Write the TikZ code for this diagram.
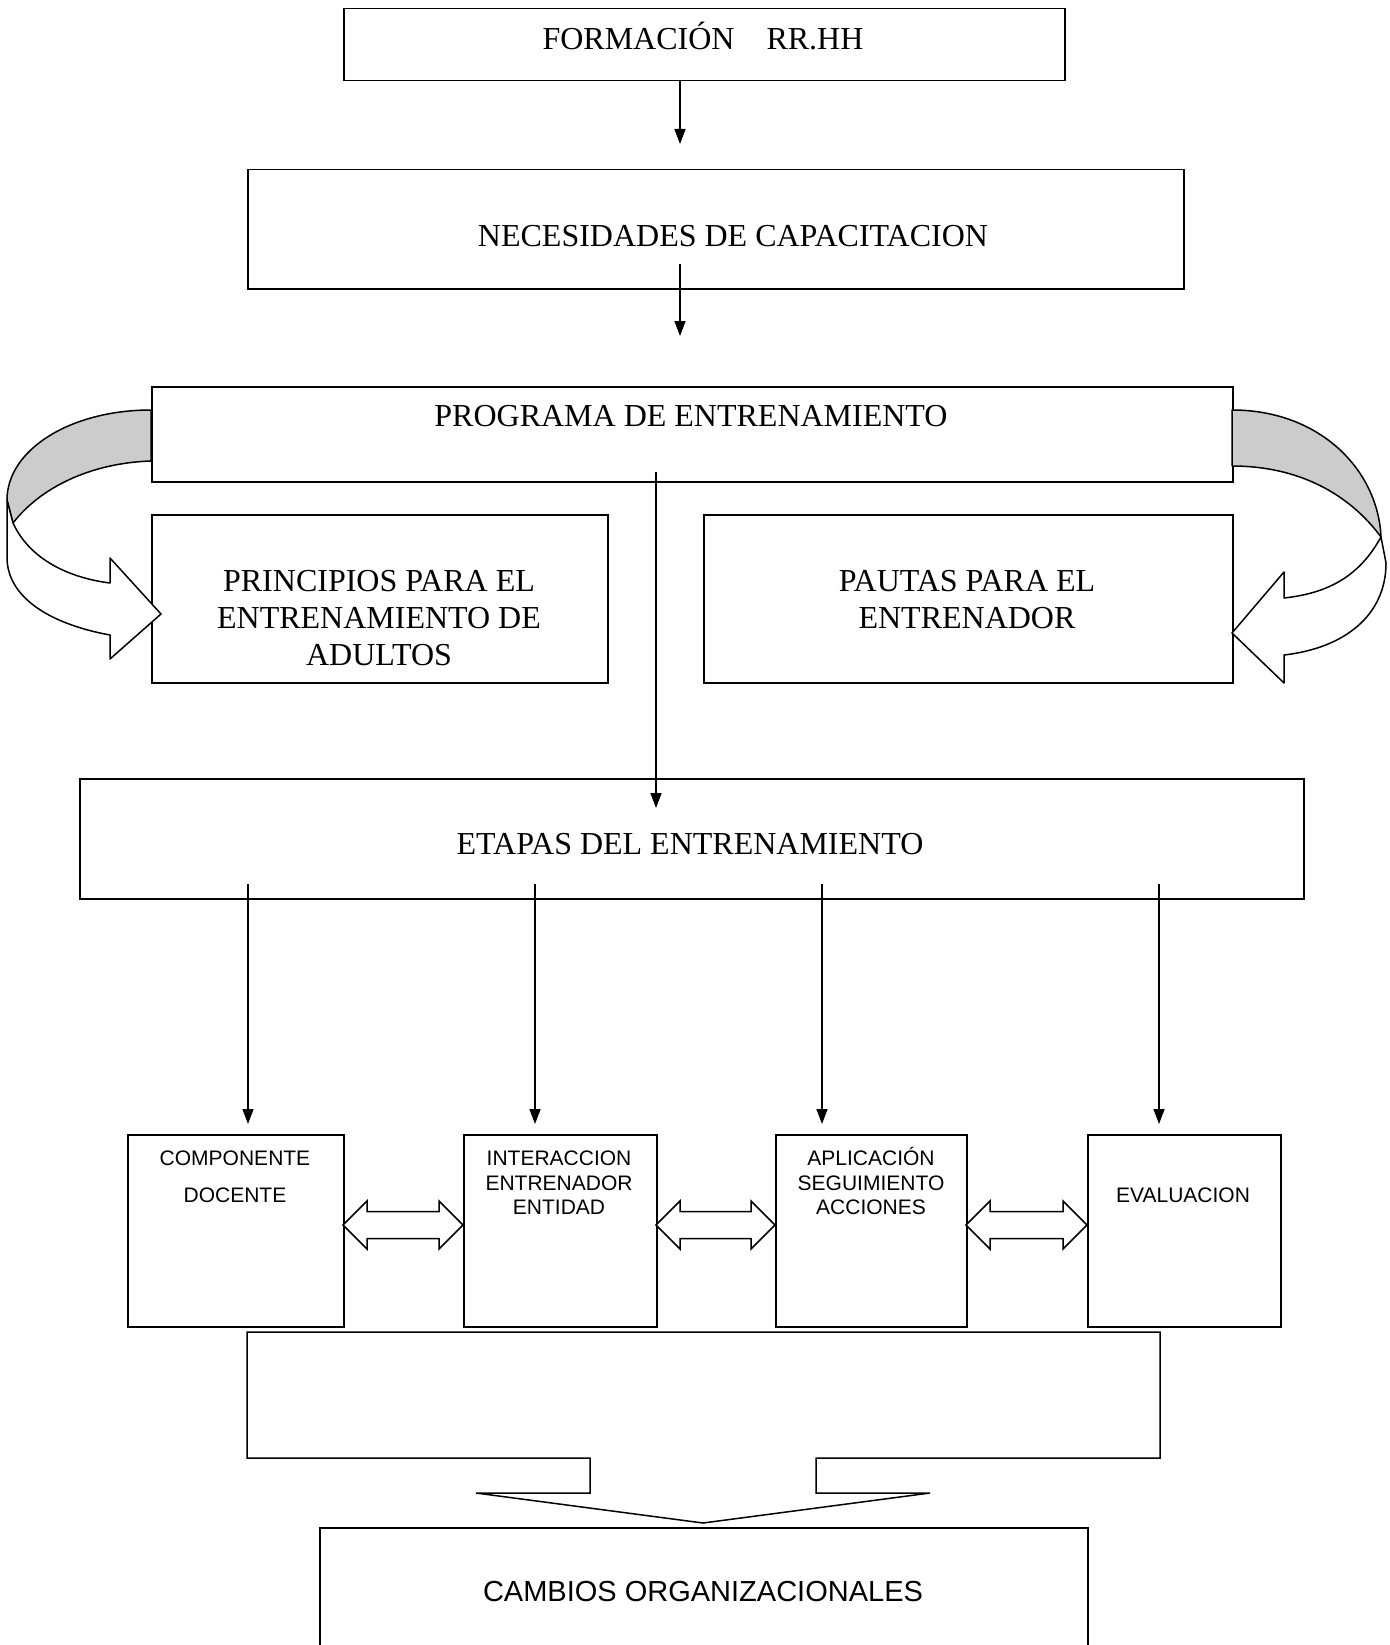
\documentclass[tikz,border=0pt]{standalone}
\usepackage{fontspec}
\setmainfont{Liberation Serif}
\newfontfamily\arialf{Liberation Sans}
\usetikzlibrary{arrows.meta}
\definecolor{bandgray}{RGB}{204,204,204}
\begin{document}
\begin{tikzpicture}[x=1pt,y=-1pt,
  box/.style={draw, line width=1.5pt, inner sep=0pt, anchor=north west},
  serif/.style={font=\fontsize{32}{36.7}\selectfont, inner sep=0pt, anchor=base},
  sans/.style={font=\arialf\fontsize{21}{24.5}\selectfont, inner sep=0pt, anchor=base},
  arr/.style={-{Triangle[length=15pt,width=11pt]}, line width=1.5pt},
  band/.style={draw, line width=1.5pt, line join=round},
  dbl/.style={draw, line width=1.5pt, fill=white, line join=miter},
]
\useasboundingbox (0,0) rectangle (1389,1645);

% boxes
\node[box, minimum width=721pt, minimum height=72pt]  (formacion)   at (343,8) {};
\node[box, minimum width=936pt, minimum height=119pt] (necesidades) at (247,169) {};
\node[box, minimum width=1081pt, minimum height=95pt] (programa)    at (151,386) {};
\node[box, minimum width=456pt, minimum height=168pt] (principios)  at (151,514) {};
\node[box, minimum width=529pt, minimum height=168pt] (pautas)      at (703,514) {};
\node[box, minimum width=1224pt, minimum height=120pt] (etapas)     at (79,778) {};
\node[box, minimum width=216pt, minimum height=192pt] (comp)  at (127,1134) {};
\node[box, minimum width=193pt, minimum height=192pt] (inter) at (463,1134) {};
\node[box, minimum width=191pt, minimum height=192pt] (aplic) at (775,1134) {};
\node[box, minimum width=193pt, minimum height=192pt] (eval)  at (1087,1134) {};
\node[box, minimum width=768pt, minimum height=140pt] (cambios) at (319,1527) {};

% texts
\node[serif] (tform) at (703,50) {FORMACIÓN\quad RR.HH};
\node[serif] (tnec)  at (733,247) {NECESIDADES DE CAPACITACION};
\node[serif] (tprog) at (691,426) {PROGRAMA DE ENTRENAMIENTO};
\node[serif] (tprin1) at (379,591) {PRINCIPIOS PARA EL};
\node[serif] (tprin2) at (379,628) {ENTRENAMIENTO DE};
\node[serif] (tprin3) at (379,665) {ADULTOS};
\node[serif] (tpaut1) at (967,591) {PAUTAS PARA EL};
\node[serif] (tpaut2) at (967,628) {ENTRENADOR};
\node[serif] (tetap) at (690,854) {ETAPAS DEL ENTRENAMIENTO};
\node[sans] (tcomp1) at (235,1165) {COMPONENTE};
\node[sans] (tcomp2) at (235,1202) {DOCENTE};
\node[sans] (tint1) at (559,1165) {INTERACCION};
\node[sans] (tint2) at (559,1190) {ENTRENADOR};
\node[sans] (tint3) at (559,1214) {ENTIDAD};
\node[sans] (tapl1) at (871,1165) {APLICACIÓN};
\node[sans] (tapl2) at (871,1190) {SEGUIMIENTO};
\node[sans] (tapl3) at (871,1214) {ACCIONES};
\node[sans] (teval) at (1183,1202) {EVALUACION};
\node[font=\arialf\fontsize{29}{34}\selectfont, inner sep=0pt, anchor=base] (tcamb) at (703,1601) {CAMBIOS ORGANIZACIONALES};

% connector ends
\coordinate (a1s) at (680,80);   \coordinate (a1e) at (680,144);
\coordinate (a2s) at (680,264);  \coordinate (a2e) at (680,336);
\coordinate (a3s) at (656,472);  \coordinate (a3e) at (656,808);
\coordinate (d1s) at (248,884);  \coordinate (d1e) at (248,1124);
\coordinate (d2s) at (535,884);  \coordinate (d2e) at (535,1124);
\coordinate (d3s) at (822,884);  \coordinate (d3e) at (822,1124);
\coordinate (d4s) at (1159,884); \coordinate (d4e) at (1159,1124);

\draw[arr] (a1s) -- (a1e);
\draw[arr] (a2s) -- (a2e);
\draw[arr] (a3s) -- (a3e);
\draw[arr] (d1s) -- (d1e);
\draw[arr] (d2s) -- (d2e);
\draw[arr] (d3s) -- (d3e);
\draw[arr] (d4s) -- (d4e);

% double arrows between the stage boxes
\foreach \a/\b in {343/463, 656/775, 966/1087}{
  \path[dbl] (\a,1225) -- (\a+24,1201) -- (\a+24,1211.5) -- (\b-24,1211.5) -- (\b-24,1201)
    -- (\b,1225) -- (\b-24,1249) -- (\b-24,1238.5) -- (\a+24,1238.5) -- (\a+24,1249) -- cycle;
}

% big bracket arrow to CAMBIOS
\path[dbl] (247,1332) -- (1160,1332) -- (1160,1458) -- (816,1458) -- (816,1493) -- (930,1493)
  -- (703,1523) -- (476,1493) -- (590,1493) -- (590,1458) -- (247,1458) -- cycle;

% left curved arrow
\path[band, fill=bandgray] (151,410) .. controls (70,410) and (7,450) .. (7,500) -- (13,523)
  .. controls (40,488) and (90,463) .. (151,461) -- cycle;
\path[band, fill=white] (13,523) .. controls (30,560) and (70,578) .. (110,583) -- (110,558)
  -- (161,614) -- (110,659) -- (110,635) .. controls (55,625) and (7,600) .. (7,557) -- (7,500) -- cycle;

% right curved arrow
\path[band, fill=bandgray] (1232,410) .. controls (1320,410) and (1378,470) .. (1381,537)
  .. controls (1350,495) and (1300,466) .. (1232,466) -- cycle;
\path[band, fill=white] (1381,537) .. controls (1360,575) and (1330,593) .. (1284,598) -- (1284,572)
  -- (1232,633) -- (1284,683) -- (1284,655) .. controls (1345,648) and (1386,615) .. (1386,563) -- cycle;
\end{tikzpicture}
\end{document}
